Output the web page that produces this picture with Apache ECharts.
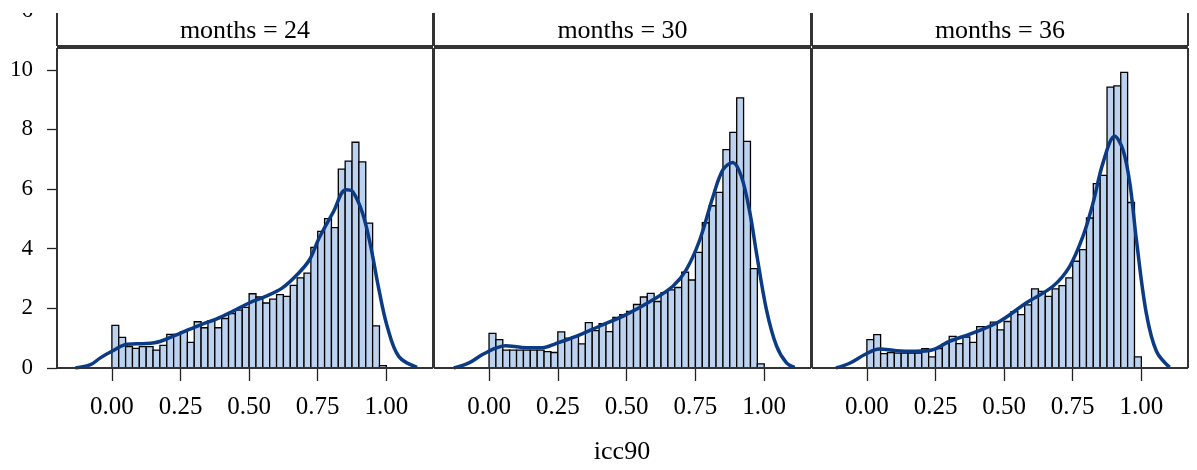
<!DOCTYPE html>
<html>
<head>
<meta charset="utf-8">
<script src="https://cdn.jsdelivr.net/npm/echarts@6/dist/echarts.min.js"></script>
<style>
html,body{margin:0;padding:0;background:#fff;}
#chart{width:1197px;height:470px;}
</style>
</head>
<body>
<div id="chart"></div>
<script>
// ---------- data ----------
const panelLabels = ['months = 24', 'months = 30', 'months = 36'];
const xTicks = [0, 0.25, 0.5, 0.75, 1.0];
const xTickLabels = ['0.00', '0.25', '0.50', '0.75', '1.00'];
const yTicks = [0, 2, 4, 6, 8, 10];
const axisTitle = 'icc90';
const binEdges = [0, 0.025, 0.05, 0.075, 0.1, 0.125, 0.15, 0.175, 0.2, 0.225,
  0.25, 0.275, 0.3, 0.325, 0.35, 0.375, 0.4, 0.425, 0.45, 0.475,
  0.5, 0.525, 0.55, 0.575, 0.6, 0.625, 0.65, 0.675, 0.7, 0.725,
  0.75, 0.775, 0.8, 0.825, 0.85, 0.875, 0.9, 0.925, 0.95, 0.975, 1.0];

const hist24 = [1.43, 1.03, 0.72, 0.66, 0.72, 0.72, 0.60, 0.76, 1.13, 1.13,
  1.22, 0.86, 1.55, 1.35, 1.59, 1.35, 1.66, 1.82, 1.94, 2.03,
  2.49, 2.38, 2.18, 2.31, 2.46, 2.40, 2.77, 3.02, 3.18, 4.04,
  4.58, 5.01, 4.71, 6.67, 6.94, 7.57, 6.91, 4.86, 1.41, 0.08];
const hist30 = [1.16, 0.95, 0.60, 0.60, 0.60, 0.60, 0.60, 0.60, 0.55, 0.52,
  1.21, 1.00, 1.05, 0.81, 1.52, 1.25, 1.49, 1.22, 1.70, 1.79,
  1.90, 2.13, 2.38, 2.50, 2.23, 2.53, 2.62, 2.70, 3.21, 2.95,
  3.88, 4.87, 5.44, 5.89, 7.32, 7.90, 9.06, 7.60, 3.33, 0.14];
const hist36 = [0.95, 1.12, 0.48, 0.52, 0.50, 0.50, 0.50, 0.50, 0.65, 0.37,
  0.65, 0.82, 1.06, 0.82, 1.04, 0.86, 1.39, 1.39, 1.54, 1.28,
  1.56, 1.89, 1.79, 2.12, 2.65, 2.57, 2.40, 2.65, 2.76, 3.02,
  3.58, 3.97, 5.03, 6.18, 6.46, 9.42, 9.46, 9.91, 5.55, 0.37];

const density24 = [[-0.133, 0], [-0.078, 0.11], [-0.042, 0.34], [0.0, 0.56], [0.055, 0.80],
  [0.127, 0.82], [0.175, 0.89], [0.25, 1.17], [0.323, 1.45], [0.38, 1.64], [0.44, 1.90],
  [0.5, 2.18], [0.56, 2.40], [0.62, 2.68], [0.68, 3.18], [0.72, 3.63], [0.755, 4.36],
  [0.805, 5.20], [0.853, 5.98], [0.877, 5.92], [0.913, 5.20], [0.943, 4.08], [0.973, 2.63],
  [1.003, 1.40], [1.045, 0.39], [1.112, 0.02]];
const density30 = [[-0.128, 0], [-0.073, 0.17], [-0.024, 0.45], [0.024, 0.67], [0.06, 0.75],
  [0.12, 0.69], [0.194, 0.68], [0.243, 0.82], [0.316, 1.06], [0.401, 1.40], [0.498, 1.79],
  [0.596, 2.29], [0.668, 2.74], [0.717, 3.30], [0.766, 4.30], [0.814, 5.75], [0.85, 6.65],
  [0.885, 6.89], [0.917, 6.42], [0.948, 5.20], [0.972, 3.85], [1.008, 1.96], [1.045, 0.73],
  [1.081, 0.17], [1.111, 0.02]];
const density36 = [[-0.113, 0], [-0.065, 0.15], [-0.004, 0.47], [0.045, 0.64], [0.106, 0.58],
  [0.179, 0.56], [0.24, 0.61], [0.30, 0.89], [0.385, 1.17], [0.483, 1.56], [0.58, 2.18],
  [0.678, 2.74], [0.739, 3.41], [0.787, 4.41], [0.824, 5.53], [0.86, 6.87], [0.903, 7.77],
  [0.933, 7.32], [0.958, 6.20], [0.982, 4.30], [1.018, 1.84], [1.055, 0.56], [1.103, 0.02]];

const hists = [hist24, hist30, hist36];
const densities = [density24, density30, density36];

// ---------- layout ----------
const panelLeft = [57, 434, 812];
const panelWidth = [376, 377, 376];
const plotTop = 48, plotHeight = 320;
const stripTop = 13, stripBottom = 46;
const xMin = -0.2, xMax = 1.17, yMin = 0, yMax = 10.73;
const serif = '"Liberation Serif", "DejaVu Serif", serif';
const barFill = '#bcd2ee';
const lineColor = '#0b3b84';
const frameColor = '#333';

function seg(x1, y1, x2, y2) {
  return {
    type: 'line', z: 100, silent: true,
    shape: { x1: x1, y1: y1, x2: x2, y2: y2 },
    style: { stroke: frameColor, lineWidth: 2 }
  };
}

const grids = [], xAxes = [], yAxes = [], series = [], graphics = [];
for (let i = 0; i < 3; i++) {
  grids.push({ left: panelLeft[i], top: plotTop, width: panelWidth[i], height: plotHeight, show: false });
  xAxes.push({
    type: 'value', gridIndex: i, min: xMin, max: xMax, position: 'bottom',
    splitLine: { show: false },
    axisLine: { show: false, onZero: false },
    axisTick: { show: true, customValues: xTicks, length: 13, lineStyle: { color: '#222', width: 1.3 } },
    axisLabel: {
      show: true, customValues: xTicks, margin: 27,
      fontFamily: serif, fontSize: 25, color: '#000',
      formatter: v => { const k = xTicks.findIndex(t => Math.abs(t - v) < 1e-9); return k >= 0 ? xTickLabels[k] : ''; }
    }
  });
  yAxes.push({
    type: 'value', gridIndex: i, min: yMin, max: yMax, position: 'left',
    show: i === 0,
    splitLine: { show: false },
    axisLine: { show: false, onZero: false },
    axisTick: { show: i === 0, customValues: yTicks, length: 10, lineStyle: { color: '#222', width: 1.3 } },
    axisLabel: {
      show: i === 0, customValues: yTicks, margin: 24,
      fontFamily: serif, fontSize: 23, color: '#000'
    }
  });
  const h = hists[i];
  series.push({
    type: 'custom', xAxisIndex: i, yAxisIndex: i,
    data: h.map((v, k) => [binEdges[k], binEdges[k + 1], v]),
    encode: { x: [0, 1], y: 2 },
    renderItem: function (params, api) {
      const p0 = api.coord([api.value(0), 0]);
      const p1 = api.coord([api.value(1), api.value(2)]);
      return {
        type: 'rect',
        shape: { x: p0[0], y: p1[1], width: p1[0] - p0[0], height: p0[1] - p1[1] },
        style: { fill: barFill, stroke: '#000', lineWidth: 1.3 }
      };
    },
    silent: true, animation: false, z: 2
  });
  series.push({
    type: 'line', xAxisIndex: i, yAxisIndex: i,
    data: densities[i], smooth: 0.35, showSymbol: false,
    lineStyle: { color: lineColor, width: 3.5 },
    silent: true, animation: false, z: 3
  });
  const x0 = panelLeft[i], x1 = panelLeft[i] + panelWidth[i];
  const yb = plotTop + plotHeight;
  // panel frame (four sides)
  graphics.push(seg(x0, plotTop, x1, plotTop));
  graphics.push(seg(x0, yb, x1, yb));
  graphics.push(seg(x0, plotTop, x0, yb));
  graphics.push(seg(x1, plotTop, x1, yb));
  // strip (open at top)
  graphics.push(seg(x0, stripTop, x0, stripBottom));
  graphics.push(seg(x1, stripTop, x1, stripBottom));
  graphics.push(seg(x0, stripBottom, x1, stripBottom));
  graphics.push({
    type: 'text', z: 100,
    x: (x0 + x1) / 2, y: (stripTop + stripBottom) / 2 + 2,
    style: { text: panelLabels[i], font: '26px ' + serif, fill: '#000', textAlign: 'center', textVerticalAlign: 'middle' }
  });
}
graphics.push({
  type: 'text', x: 622, y: 452, z: 100,
  style: { text: axisTitle, font: '26px ' + serif, fill: '#000', textAlign: 'center', textVerticalAlign: 'middle' }
});
// bottom of a tick label from the panel row above, mostly hidden by the top mask
graphics.push({
  type: 'text', x: 33, y: 22, z: 10,
  style: { text: '6', font: '23px ' + serif, fill: '#000', textAlign: 'right', textVerticalAlign: 'bottom' }
});
graphics.push({
  type: 'rect', z: 50,
  shape: { x: 0, y: 0, width: 1197, height: 13 },
  style: { fill: '#fff', stroke: null }
});

const chart = echarts.init(document.getElementById('chart'), null, { renderer: 'canvas' });
chart.setOption({
  animation: false,
  backgroundColor: '#fff',
  grid: grids,
  xAxis: xAxes,
  yAxis: yAxes,
  series: series,
  graphic: graphics
});
</script>
</body>
</html>
